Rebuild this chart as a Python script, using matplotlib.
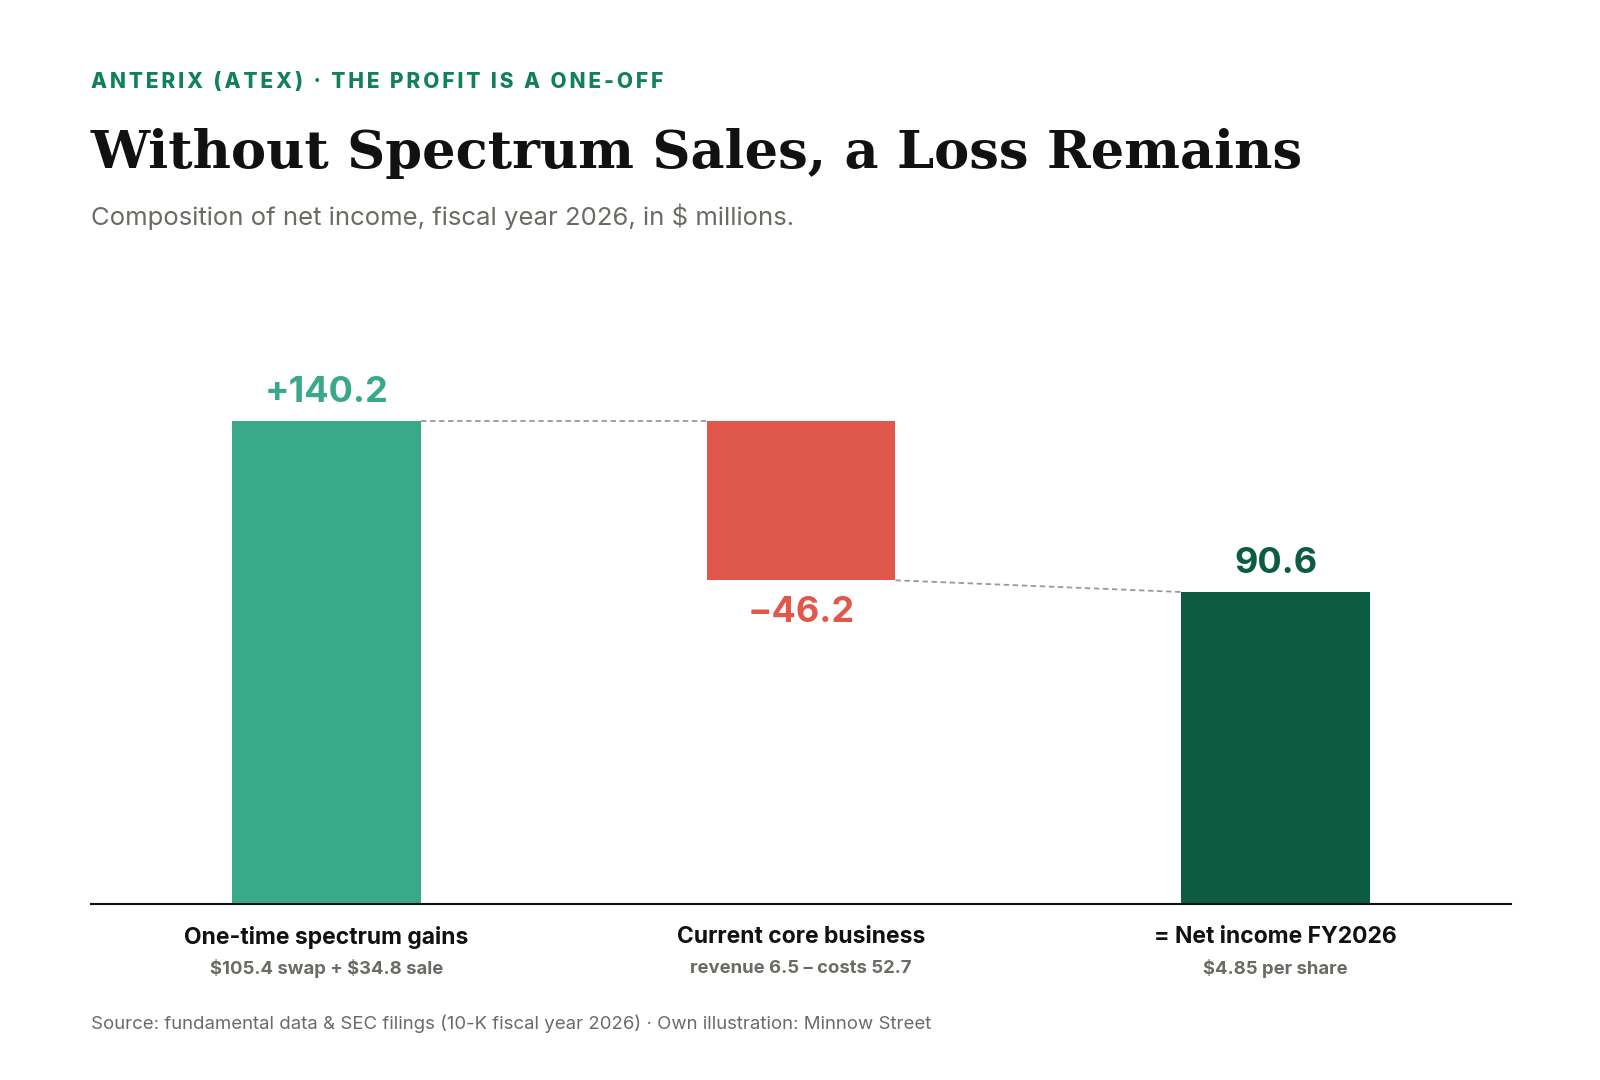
import matplotlib
matplotlib.use("Agg")
import matplotlib.pyplot as plt

CATEGORIES = ["One-time spectrum gains", "Current core business", "= Net income FY2026"]
SUBLABELS = ["\\$105.4 swap + \\$34.8 sale", "revenue 6.5 \u2013 costs 52.7", "\\$4.85 per share"]
SPECTRUM_GAIN = 140.2
CORE_RESULT = -46.2
NET_INCOME = 90.6
VALUE_LABELS = ["+140.2", "\u221246.2", "90.6"]

GREEN = "#3AA98A"
RED = "#E0584C"
DARK = "#0B5C40"
ACCENT = "#12805A"
GREY = "#6B6B66"

F = 1.025  # reference was read at a slightly reduced scale

plt.rcParams["font.family"] = ["Inter", "DejaVu Sans"]

fig = plt.figure(figsize=(16, 10.8), dpi=100)
ax = fig.add_axes([89 * F / 1600, 1 - 882 * F / 1080, 1385 * F / 1600, 582 * F / 1080])

x = [0, 1, 2]
width = 0.398
bottoms = [0, SPECTRUM_GAIN + CORE_RESULT, 0]
heights = [SPECTRUM_GAIN, -CORE_RESULT, NET_INCOME]
colors = [GREEN, RED, DARK]
ax.bar(x, heights, bottom=bottoms, width=width, color=colors)

# connectors
ax.plot([x[0] + width / 2, x[1] - width / 2], [SPECTRUM_GAIN, SPECTRUM_GAIN],
        ls=(0, (3, 2)), color="#999999", lw=1.3)
ax.plot([x[1] + width / 2, x[2] - width / 2], [SPECTRUM_GAIN + CORE_RESULT, NET_INCOME],
        ls=(0, (3, 2)), color="#999999", lw=1.3)

ax.text(x[0], SPECTRUM_GAIN + 3.5, VALUE_LABELS[0], ha="center", va="bottom",
        fontsize=26, fontweight="bold", color=GREEN)
ax.text(x[1], SPECTRUM_GAIN + CORE_RESULT - 4.5, VALUE_LABELS[1], ha="center", va="top",
        fontsize=26, fontweight="bold", color=RED)
ax.text(x[2], NET_INCOME + 3.5, VALUE_LABELS[2], ha="center", va="bottom",
        fontsize=26, fontweight="bold", color=DARK)

ax.set_xlim(-0.496, 2.496)
ax.set_ylim(0, 173.2)
for s in ["top", "right", "left"]:
    ax.spines[s].set_visible(False)
ax.spines["bottom"].set_color("#111111")
ax.spines["bottom"].set_linewidth(1.5)
ax.set_yticks([])
ax.set_xticks([])

for xi, cat, sub in zip(x, CATEGORIES, SUBLABELS):
    ax.annotate(cat, (xi, 0), xytext=(0, -33), textcoords="offset pixels",
                ha="center", va="center", fontsize=16.5, fontweight="bold", color="#111111",
                annotation_clip=False)
    ax.annotate(sub, (xi, 0), xytext=(0, -64), textcoords="offset pixels",
                ha="center", va="center", fontsize=13.3, fontweight="bold", color=GREY,
                annotation_clip=False)

kicker = "\u200a\u200a".join("ANTERIX (ATEX) \u00b7 THE PROFIT IS A ONE-OFF")
fig.text(89 * F / 1600, 1 - 80 * F / 1080, kicker,
         fontsize=15, fontweight="heavy", color=ACCENT, va="center", ha="left")
fig.text(88 * F / 1600, 1 - 150 * F / 1080, "Without Spectrum Sales, a Loss Remains",
         fontsize=38, fontweight="heavy", family=["DejaVu Serif"], color="#111111",
         va="center", ha="left")
fig.text(89 * F / 1600, 1 - 211 * F / 1080, "Composition of net income, fiscal year 2026, in $ millions.",
         fontsize=18.5, color=GREY, va="center", ha="left")
fig.text(89 * F / 1600, 1 - 999 * F / 1080,
         "Source: fundamental data & SEC filings (10-K fiscal year 2026) \u00b7 Own illustration: Minnow Street",
         fontsize=13.4, color=GREY, va="center", ha="left")

fig.savefig("out.png", dpi=100, facecolor="white")
